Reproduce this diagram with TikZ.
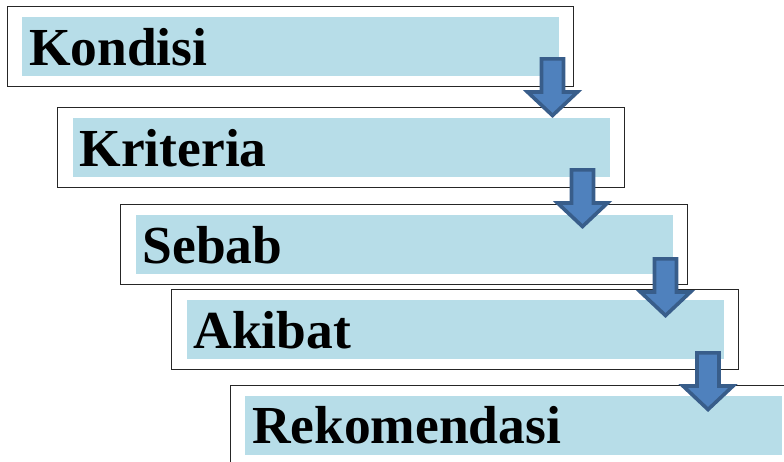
\documentclass[tikz,border=0pt]{standalone}
\usepackage{fontspec}
\setmainfont{Liberation Serif}
\usetikzlibrary{fit}
\definecolor{boxfill}{RGB}{183,221,232}
\definecolor{arrowfill}{RGB}{79,129,189}
\definecolor{arrowline}{RGB}{56,93,138}
\tikzset{
  labelbox/.style={fill=boxfill, minimum width=537pt, minimum height=59pt,
    text width=523pt, inner xsep=7pt, inner ysep=0pt, text height=37pt,
    text depth=0pt, align=left, font=\bfseries\fontsize{53.5}{60}\selectfont},
  framebox/.style={draw=black!85, line width=1.1pt, inner xsep=14.5pt, inner ysep=10pt},
  pics/downarrow/.style={code={
    \draw[fill=arrowfill, draw=arrowline, line width=3.6pt]
      (-11,1.8) -- (11,1.8) -- (11,35) -- (25,35) -- (0,58.5)
      -- (-25,35) -- (-11,35) -- cycle;}}
}

\begin{document}
\begin{tikzpicture}[x=1pt, y=-1pt]
      \useasboundingbox (0,0) rectangle (784,461);
      \node[labelbox] (kondisi) at (290.5,46.5) {Kondisi};
      \node[framebox, fit=(kondisi)] (kondisi-frame) {};
      \node[labelbox] (kriteria) at (341,147.5) {Kriteria};
      \node[framebox, fit=(kriteria)] (kriteria-frame) {};
      \node[labelbox] (sebab) at (404,244.5) {Sebab};
      \node[framebox, fit=(sebab)] (sebab-frame) {};
      \node[labelbox] (akibat) at (455,329.5) {Akibat};
      \node[framebox, fit=(akibat)] (akibat-frame) {};
      \node[labelbox] (rekomendasi) at (513.5,425) {Rekomendasi};
      \node[framebox, fit=(rekomendasi)] (rekomendasi-frame) {};
      \pic at (552.5,57) {downarrow};
      \pic at (582.5,168) {downarrow};
      \pic at (665.5,257) {downarrow};
      \pic at (708,351) {downarrow};
    \end{tikzpicture}
\end{document}
